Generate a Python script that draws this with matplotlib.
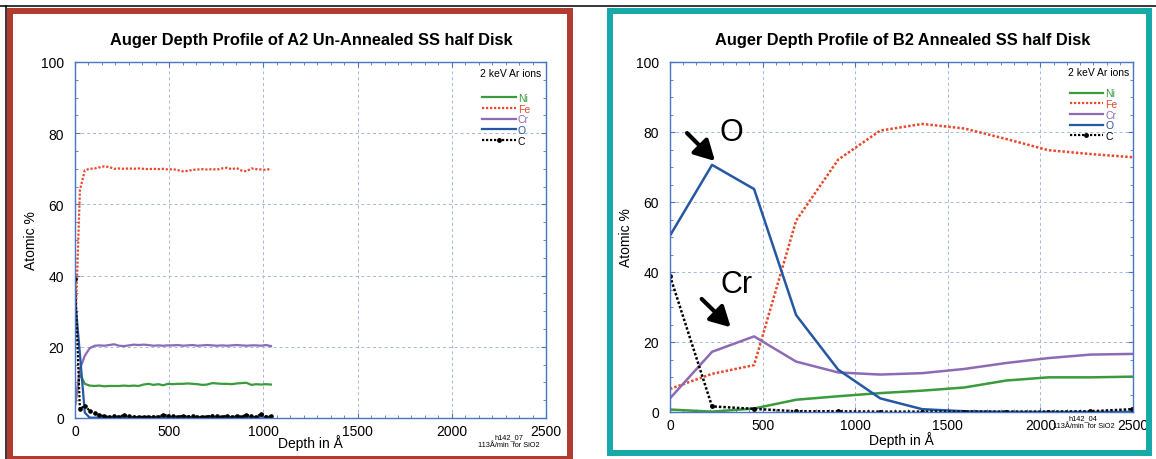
import matplotlib.pyplot as plt
from matplotlib.patches import Rectangle
from matplotlib.lines import Line2D
from matplotlib.ticker import MultipleLocator, AutoMinorLocator

plt.rcParams['font.family'] = ['Liberation Sans', 'DejaVu Sans']

# ---- data: A2 un-annealed (left) ----
depth_a = [0, 26, 52, 78, 104, 130, 156, 182, 208, 234, 260, 286, 312, 338,
           364, 390, 416, 442, 468, 494, 520, 546, 572, 598, 624, 650, 676,
           702, 728, 754, 780, 806, 832, 858, 884, 910, 936, 962, 988, 1014, 1040]
ni_a = [3.5, 12.4, 9.6, 9.1, 9.0, 9.1, 8.9, 9.0, 9.0, 9.0, 9.1, 9.0, 9.1, 9.0,
        9.4, 9.6, 9.3, 9.5, 9.2, 9.6, 9.5, 9.6, 9.6, 9.7, 9.6, 9.5, 9.3,
        9.4, 9.8, 9.7, 9.6, 9.6, 9.5, 9.7, 9.8, 9.9, 9.3, 9.5, 9.4, 9.5, 9.4]
fe_a = [22.0, 64.0, 69.6, 70.0, 70.1, 70.4, 70.7, 70.5, 70.0, 70.1, 70.0, 70.1, 70.0, 70.1,
        70.0, 69.9, 70.0, 69.9, 70.0, 69.8, 69.9, 69.6, 69.3, 69.4, 69.7, 69.8, 69.9,
        69.8, 69.9, 69.8, 70.1, 70.3, 69.9, 70.2, 69.5, 69.3, 70.1, 69.9, 69.8, 69.7, 70.0]
cr_a = [3.5, 13.8, 17.5, 19.6, 20.3, 20.4, 20.3, 20.5, 20.7, 20.3, 20.2, 20.4, 20.6, 20.5,
        20.6, 20.5, 20.3, 20.4, 20.3, 20.4, 20.4, 20.5, 20.3, 20.4, 20.5, 20.3, 20.4,
        20.5, 20.4, 20.3, 20.4, 20.3, 20.4, 20.5, 20.4, 20.3, 20.4, 20.4, 20.3, 20.5, 20.2]
o_a = [34.0, 18.0, 1.5, 0.1, 0.1, 0.2, 0.1, 0.2, 0.3, 0.2, 0.1, 0.2, 0.3, 0.2,
       0.2, 0.3, 0.2, 0.4, 0.3, 0.2, 0.3, 0.4, 0.5, 0.3, 0.2, 0.2, 0.3,
       0.4, 0.3, 0.2, 0.3, 0.2, 0.3, 0.4, 0.3, 0.2, 0.3, 0.2, 0.4, 0.3, 0.2]
c_a = [39.0, 2.5, 3.5, 2.0, 1.4, 0.8, 0.5, 0.3, 0.6, 0.4, 0.8, 0.5, 0.3, 0.3,
       0.3, 0.3, 0.4, 0.3, 0.9, 0.7, 0.5, 0.3, 0.6, 0.4, 0.6, 0.3, 0.3,
       0.4, 0.7, 0.5, 0.3, 0.7, 0.3, 0.5, 0.4, 0.9, 0.5, 0.3, 1.2, 0.4, 0.5]

# ---- data: B2 annealed (right) ----
depth_b = [0, 227, 454, 681, 908, 1135, 1362, 1589, 1816, 2043, 2270, 2497]
ni_b = [0.7, 0.1, 1.0, 3.5, 4.5, 5.4, 6.1, 7.0, 9.0, 9.9, 9.9, 10.1]
fe_b = [6.6, 10.9, 13.4, 54.7, 72.1, 80.4, 82.3, 81.0, 78.0, 74.8, 73.7, 72.8]
cr_b = [3.9, 17.2, 21.6, 14.4, 11.3, 10.7, 11.1, 12.3, 14.0, 15.4, 16.4, 16.6]
o_b = [50.4, 70.6, 63.7, 27.7, 12.1, 3.9, 0.8, 0.2, 0.0, 0.0, 0.0, 0.0]
c_b = [38.9, 1.6, 0.9, 0.2, 0.2, 0.1, 0.1, 0.1, 0.1, 0.1, 0.2, 0.8]

elements = ['Ni', 'Fe', 'Cr', 'O', 'C']
colors = {'Ni': '#3a9a3c', 'Fe': '#e8482c', 'Cr': '#8c6bb4', 'O': '#2457a4', 'C': 'black'}
spine_blue = '#4a74c4'
grid_blue = '#a6b6dc'

W, H = 1156, 460
fig = plt.figure(figsize=(W / 100, H / 100), dpi=100)


def px_box(x0, y0, x1, y1):
    # pixel box (top-left origin) -> figure fraction rect
    return [x0 / W, 1 - y1 / H, (x1 - x0) / W, (y1 - y0) / H]


def style_axes(ax, xmax):
    ax.set_xlim(0, xmax)
    ax.set_ylim(0, 100)
    ax.xaxis.set_major_locator(MultipleLocator(500))
    ax.xaxis.set_minor_locator(AutoMinorLocator(7))
    ax.yaxis.set_major_locator(MultipleLocator(20))
    ax.yaxis.set_minor_locator(AutoMinorLocator(4))
    ax.tick_params(which='both', direction='in', top=True, right=True,
                   color=spine_blue, labelsize=10)
    ax.tick_params(which='major', length=3.5)
    ax.tick_params(which='minor', length=2.2)
    ax.tick_params(axis='y', pad=8)
    ax.tick_params(axis='x', pad=4)
    for sp in ax.spines.values():
        sp.set_color(spine_blue)
        sp.set_linewidth(1.0)
    ax.grid(True, which='major', color=grid_blue, linestyle=(0, (3, 3)), lw=0.7)
    ax.set_axisbelow(True)
    ax.set_ylabel('Atomic %', fontsize=10, labelpad=2)
    ax.set_xlabel('Depth in Å', fontsize=10)


def plot_series(ax, depth, series, lw, ms):
    for el in elements:
        y = series[el]
        if el == 'Fe':
            ax.plot(depth, y, color=colors[el], lw=lw, ls=(0, (1, 0.8)), label=el)
        elif el == 'C':
            ax.plot(depth, y, color='black', lw=lw, ls=(0, (1, 0.8)),
                    marker='o', ms=ms, label=el)
        else:
            ax.plot(depth, y, color=colors[el], lw=lw, label=el)


def add_legend(ax, anchor, note_xy):
    ax.text(*note_xy, '2 keV Ar ions', transform=ax.transAxes, ha='right',
            va='center', fontsize=7.5)
    leg = ax.legend(loc='upper right', bbox_to_anchor=anchor, frameon=False,
                    fontsize=7.5, handlelength=3.2, handletextpad=0.2,
                    labelspacing=0.07, numpoints=1, borderaxespad=0,
                    labelcolor=[colors[e] for e in elements])
    for h in leg.legend_handles:
        h.set_linewidth(1.6)
        if isinstance(h, Line2D) and h.get_marker() not in (None, 'None', ''):
            h.set_markersize(2.5)


# ---- left panel ----
ax1 = fig.add_axes(px_box(75, 63, 546, 419))
style_axes(ax1, 2500)
plot_series(ax1, depth_a, {'Ni': ni_a, 'Fe': fe_a, 'Cr': cr_a, 'O': o_a, 'C': c_a},
            lw=1.6, ms=2.3)
ax1.xaxis.set_label_coords(0.5, -0.045)
add_legend(ax1, (0.975, 0.925), (0.989, 0.969))

# ---- right panel ----
ax2 = fig.add_axes(px_box(670, 63, 1133, 413))
style_axes(ax2, 2500)
plot_series(ax2, depth_b, {'Ni': ni_b, 'Fe': fe_b, 'Cr': cr_b, 'O': o_b, 'C': c_b},
            lw=1.8, ms=2.5)
ax2.xaxis.set_label_coords(0.5, -0.054)
add_legend(ax2, (0.975, 0.937), (0.991, 0.972))

# hand-drawn callouts
arrow = dict(arrowstyle='-|>,head_length=0.55,head_width=0.3', lw=3,
             color='black', mutation_scale=22, shrinkA=0, shrinkB=0)
ax2.annotate('', xy=(243, 71.7), xytext=(92, 79.7), arrowprops=arrow)
ax2.text(333, 79.9, 'O', fontsize=22, ha='center', va='center')
ax2.annotate('', xy=(328, 24.2), xytext=(171, 32.3), arrowprops=arrow)
ax2.text(360, 36.6, 'Cr', fontsize=22, ha='center', va='center')

# titles
fig.text(311 / W, 1 - 41 / H, 'Auger Depth Profile of A2 Un-Annealed SS half Disk',
         ha='center', va='center', fontsize=11.8, fontweight='bold')
fig.text(903 / W, 1 - 41 / H, 'Auger Depth Profile of B2 Annealed SS half Disk',
         ha='center', va='center', fontsize=11.8, fontweight='bold')

# small footnotes
fig.text(509 / W, 1 - 437.5 / H, 'h142_07', ha='center', va='center', fontsize=5.3)
fig.text(509 / W, 1 - 445.5 / H, '113Å/min  for SiO2', ha='center', va='center', fontsize=5.3)
fig.text(1083 / W, 1 - 419 / H, 'h142_04', ha='center', va='center', fontsize=5.3)
fig.text(1084 / W, 1 - 427 / H, '113Å/min  for SiO2', ha='center', va='center', fontsize=5.3)

# coloured frames around each panel
fig.patches.append(Rectangle((10 / W, 1 - 460 / H), 560 / W, 448 / H, fill=False,
                             ec='#b03b2e', lw=4.3, transform=fig.transFigure, figure=fig))
fig.patches.append(Rectangle((610 / W, 1 - 454 / H), 539 / W, 442 / H, fill=False,
                             ec='#16a9a8', lw=4.3, transform=fig.transFigure, figure=fig))
fig.add_artist(Line2D([0, 1], [1 - 6.5 / H, 1 - 6.5 / H], color='black', lw=1.1,
                      transform=fig.transFigure))
fig.add_artist(Line2D([6.3 / W, 6.3 / W], [0, 1 - 6.5 / H], color='black', lw=1.1,
                      transform=fig.transFigure))

fig.savefig('out.png', dpi=100)
